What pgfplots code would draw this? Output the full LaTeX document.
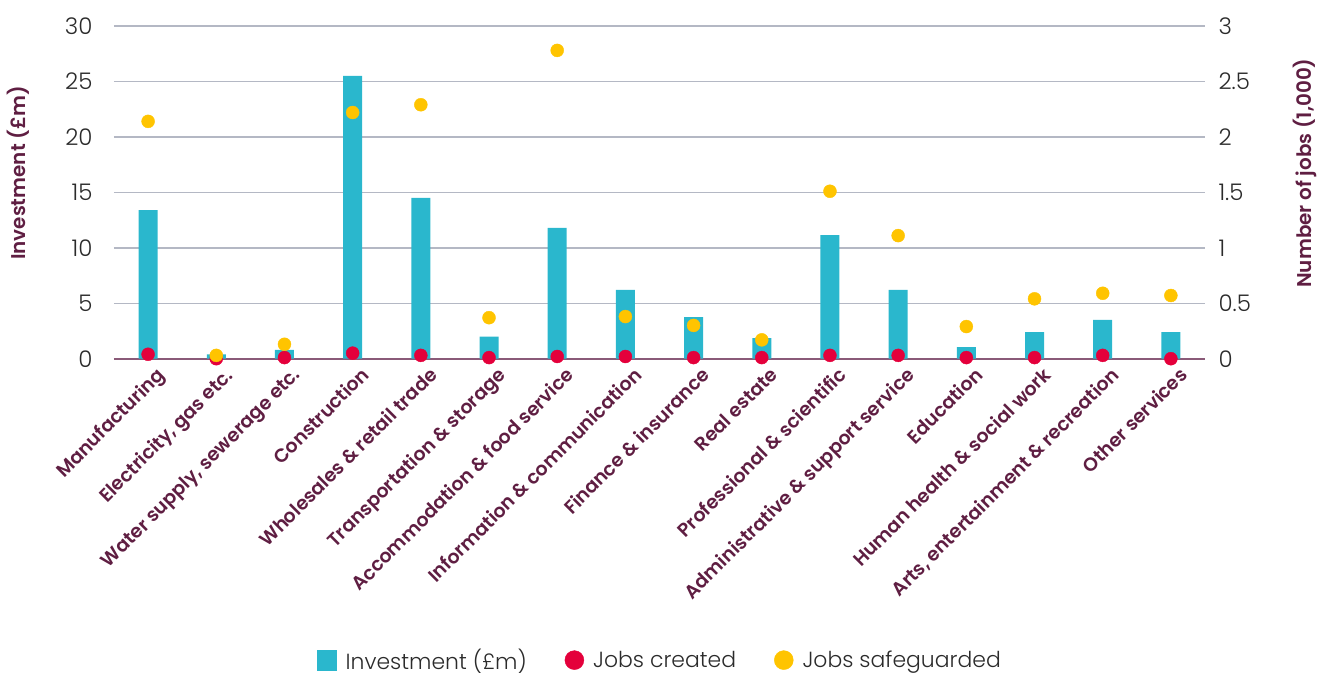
\documentclass[border=0pt]{standalone}
\usepackage{pgfplots}
\pgfplotsset{compat=1.18}
\usepackage{fontspec}
\setmainfont{Poppins}[UprightFont=* Light, BoldFont=* SemiBold]
\definecolor{barc}{HTML}{2AB7CD}
\definecolor{jc}{HTML}{E4003B}
\definecolor{js}{HTML}{FFC400}
\definecolor{maroon}{HTML}{5F1E42}
\definecolor{zl}{HTML}{8A5A78}
\definecolor{gridc}{HTML}{B4B8C4}
\definecolor{tickc}{HTML}{2B2B2B}
\pgfplotsset{
  common/.style={
    at={(0,0)}, anchor=south west,
    scale only axis, width=1091bp, height=332.7bp,
    xmin=-0.5, xmax=15.5,
    major tick length=0,
    /pgf/number format/assume math mode=true,
    yticklabel style={font=\fontsize{23}{27}\selectfont, color=tickc},
    ylabel style={font=\bfseries\fontsize{20}{24}\selectfont, color=maroon, anchor=center},
  }
}
\begin{document}
\begin{tikzpicture}
\path[use as bounding box] (-114bp,-314.3bp) rectangle (1215bp,358.7bp);
\begin{axis}[common,
  ymin=0, ymax=30, ytick={0,5,...,30},
  axis y line*=left, axis x line*=bottom,
  y axis line style={draw=none},
  x axis line style={zl, line width=1.8bp, -},
  ymajorgrids, major grid style={gridc, line width=1.5bp},
  xtick={0,...,15},
  xticklabels={Manufacturing,{Electricity, gas etc.},{Water supply, sewerage etc.},Construction,Wholesales \& retail trade,Transportation \& storage,Accommodation \& food service,Information \& communication,Finance \& insurance,Real estate,Professional \& scientific,Administrative \& support service,Education,Human health \& social work,{Arts, entertainment \& recreation},Other services},
  xticklabel style={rotate=45, anchor=north east, font=\bfseries\fontsize{19}{22}\selectfont, color=maroon, inner sep=2bp, xshift=2bp, yshift=-8bp},
  yticklabel style={xshift=-18bp},
  ylabel={Investment (£m)},
  ylabel style={at={(axis description cs:-0.088,0.558)}},
]
\addplot[ybar, bar width=19bp, fill=barc, draw=none] coordinates {
(0,13.4) (1,0.4) (2,0.8) (3,25.5) (4,14.5) (5,2.0) (6,11.8) (7,6.2)
(8,3.75) (9,1.85) (10,11.15) (11,6.2) (12,1.05) (13,2.4) (14,3.5) (15,2.4)};
\end{axis}
\begin{axis}[common,
  ymin=0, ymax=3, ytick={0,0.5,...,3},
  axis y line*=right, axis x line=none,
  y axis line style={draw=none},
  yticklabel style={anchor=west, xshift=10bp},
  ylabel={Number of jobs (1,000)},
  ylabel style={at={(axis description cs:1.0917,0.558)}, rotate=0},
  legend style={at={(axis description cs:0.5005,-0.906)}, anchor=center, draw=none, fill=none,
    legend columns=3, font=\fontsize{22}{26}\selectfont, text=tickc,
    /tikz/every even column/.append style={column sep=36bp},
    /tikz/every odd column/.append style={column sep=7bp}},
  legend cell align=left,
]
\addlegendimage{legend image code/.code={\fill[barc] (0bp,-10bp) rectangle (19bp,10bp);}}
\addlegendimage{legend image code/.code={\fill[jc] (9.5bp,0bp) circle (9.5bp);}}
\addlegendimage{legend image code/.code={\fill[js] (9.5bp,0bp) circle (9.5bp);}}
\addplot[only marks, mark=*, mark size=6.5bp, color=jc, forget plot] coordinates {
(0,0.04) (1,0.0) (2,0.01) (3,0.05) (4,0.03) (5,0.01) (6,0.02) (7,0.02)
(8,0.01) (9,0.01) (10,0.03) (11,0.03) (12,0.01) (13,0.01) (14,0.03) (15,0.0)};
\addplot[only marks, mark=*, mark size=6.5bp, color=js, forget plot] coordinates {
(0,2.14) (1,0.03) (2,0.13) (3,2.22) (4,2.29) (5,0.37) (6,2.78) (7,0.38)
(8,0.30) (9,0.17) (10,1.51) (11,1.11) (12,0.29) (13,0.54) (14,0.59) (15,0.57)};
\legend{Investment (£m),Jobs created,Jobs safeguarded}
\end{axis}
\end{tikzpicture}
\end{document}
